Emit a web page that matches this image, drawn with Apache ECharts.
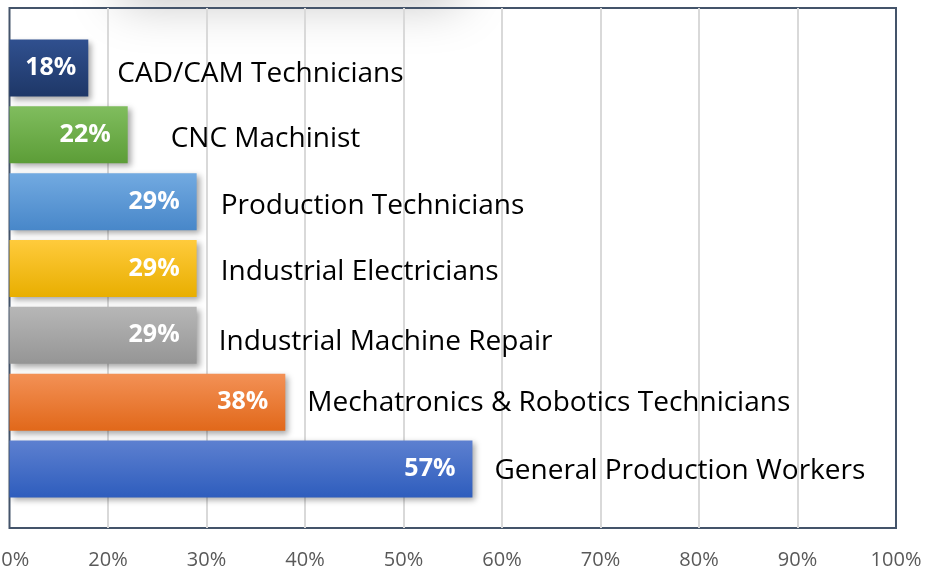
<!DOCTYPE html>
<html>
<head>
<meta charset="utf-8">
<script src="https://cdn.jsdelivr.net/npm/echarts@6/dist/echarts.min.js"></script>
<style>
  html, body { margin: 0; padding: 0; background: #fff; }
  #chart { width: 925px; height: 570px; }
</style>
</head>
<body>
<div id="chart"></div>
<script>
// data
const categories = [
  'CAD/CAM Technicians',
  'CNC Machinist',
  'Production Technicians',
  'Industrial Electricians',
  'Industrial Machine Repair',
  'Mechatronics & Robotics Technicians',
  'General Production Workers'
]
const shares = [18, 22, 29, 29, 29, 38, 57]

// looks
const barColors = [
  ['#30508f', '#1e3767'],
  ['#80bd5e', '#5c9d37'],
  ['#72aae1', '#4887c9'],
  ['#ffcb3c', '#e8ae00'],
  ['#b7b7b7', '#959595'],
  ['#f39156', '#e1681a'],
  ['#5d80d0', '#2e5dbd']
]
const nameGap = [29, 43, 24, 24, 22, 22, 22]
const nameShift = [6, 4, 4, 4, 7, 1, 2]
const valueInset = [12, 17, 17, 17, 17, 17, 17]
const font = '"Open Sans", Lato, sans-serif'

const chart = echarts.init(document.getElementById('chart'))

const grad = c => new echarts.graphic.LinearGradient(0, 0, 0, 1, [
  { offset: 0, color: c[0] },
  { offset: 1, color: c[1] }
])

const barData = shares.map((v, i) => ({
  value: v,
  itemStyle: {
    color: grad(barColors[i]),
    shadowColor: 'rgba(0,0,0,0.35)',
    shadowBlur: 6,
    shadowOffsetX: 3,
    shadowOffsetY: 3
  },
  label: { distance: valueInset[i] }
}))

const nameData = shares.map((v, i) => ({
  value: v,
  label: { distance: nameGap[i], offset: [0, nameShift[i]] }
}))

const option = {
  animation: false,
  graphic: [
    {
      // soft grey smudge along the top edge
      type: 'rect',
      z: -10,
      shape: { x: 120, y: -60, width: 340, height: 50 },
      style: {
        fill: '#999',
        shadowColor: 'rgba(0,0,0,0.25)',
        shadowBlur: 50,
        shadowOffsetY: 12
      }
    }
  ],
  grid: [
    {
      left: 9.5, right: 29, top: 8, bottom: 42,
      show: true,
      borderColor: '#44546a',
      borderWidth: 2,
      containLabel: false,
      outerBoundsMode: 'none'
    },
    {
      left: 9.5, right: 29, top: 34.6, bottom: 67.6,
      containLabel: false,
      outerBoundsMode: 'none'
    }
  ],
  xAxis: [
    {
      gridIndex: 0,
      type: 'value',
      min: 10,
      max: 100,
      interval: 10,
      axisLine: { show: false },
      axisTick: { show: false },
      axisLabel: {
        formatter: '{value}%',
        color: '#595959',
        fontFamily: font,
        fontSize: 20,
        margin: 22,
        hideOverlap: false
      },
      splitLine: {
        showMinLine: false,
        showMaxLine: false,
        lineStyle: { color: '#d9d9d9', width: 2 }
      }
    },
    {
      gridIndex: 1,
      type: 'value',
      min: 10,
      max: 100,
      show: false
    }
  ],
  yAxis: [
    { gridIndex: 0, type: 'category', data: categories, show: false },
    { gridIndex: 1, type: 'category', data: categories, inverse: true, show: false }
  ],
  series: [
    {
      type: 'bar',
      xAxisIndex: 1,
      yAxisIndex: 1,
      barWidth: 57,
      barGap: '-100%',
      data: barData,
      label: {
        show: true,
        position: 'insideRight',
        formatter: '{c}%',
        color: '#fff',
        fontWeight: 'bold',
        fontFamily: font,
        fontSize: 25
      }
    },
    {
      type: 'bar',
      xAxisIndex: 1,
      yAxisIndex: 1,
      barWidth: 57,
      barGap: '-100%',
      silent: true,
      data: nameData,
      itemStyle: { color: 'rgba(0,0,0,0)' },
      label: {
        show: true,
        position: 'right',
        formatter: p => categories[p.dataIndex],
        color: '#000',
        fontFamily: font,
        fontSize: 28
      }
    }
  ]
}

chart.setOption(option)
</script>
</body>
</html>
